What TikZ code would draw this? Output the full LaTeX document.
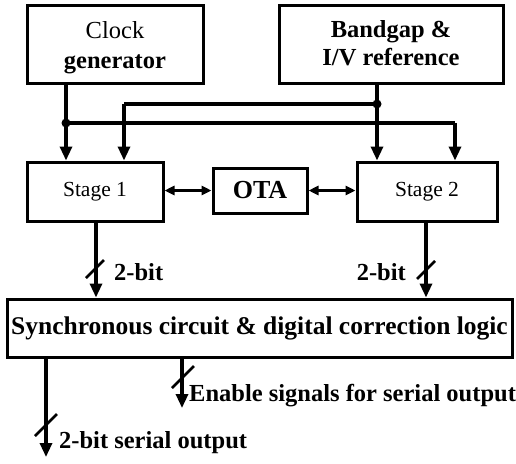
\documentclass[tikz,border=0pt]{standalone}
\usepackage{fontspec}
\setmainfont{Liberation Serif}
\usetikzlibrary{arrows.meta}
\tikzset{
  blk/.style={draw, line width=3pt, inner sep=0pt, align=center},
  topblk/.style={blk, minimum height=78pt, font=\fontsize{24.5}{30}\selectfont\bfseries},
  wire/.style={line width=3.2pt},
  sig/.style={wire, -{Triangle[length=14pt,width=12pt]}},
  dsig/.style={line width=2.6pt, {Triangle[length=10pt,width=9pt]}-{Triangle[length=10pt,width=9pt]}},
  jdot/.style={circle, fill, inner sep=0pt, minimum size=9pt},
  bus/.style={line width=2.6pt},
  lbl/.style={font=\fontsize{24.5}{26}\selectfont\bfseries, inner sep=0pt}
}
% two centred lines; the second baseline sits #1 below the box centre, #2 is extra line gap
\newcommand\twolines[4]{\raisebox{-#1}[0pt][0pt]{\begin{tabular}[b]{@{}c@{}}#3\\[#2]#4\end{tabular}}}
\begin{document}
\begin{tikzpicture}[x=1pt,y=-1pt]
\useasboundingbox (0,0) rectangle (516,463);

% blocks
\node[topblk, minimum width=176pt] (clock) at (115,44) {\twolines{24pt}{0pt}{\mdseries Clock}{generator}};
\node[topblk, minimum width=224pt] (bg) at (391,44) {\twolines{21pt}{-2pt}{Bandgap \&}{I/V reference}};
\node[blk, minimum width=136pt, minimum height=59pt, font=\fontsize{21.5}{22}\selectfont] (s1) at (95,191.5) {Stage 1};
\node[blk, minimum width=140pt, minimum height=59pt, font=\fontsize{21.5}{22}\selectfont] (s2) at (427,191.5) {Stage 2};
\node[blk, minimum width=94pt, minimum height=45pt, font=\fontsize{26}{26}\selectfont\bfseries] (ota) at (260,190.5) {OTA};
\node[blk, minimum width=505pt, minimum height=58pt, font=\fontsize{25.5}{26}\selectfont\bfseries] (sync) at (259.5,328) {Synchronous circuit \& digital correction logic};

% junctions and routing points
\coordinate (cj) at (66,123);
\coordinate (bj) at (377,104);
\coordinate (bl) at (124,104);
\coordinate (cr) at (455,123);
\node[jdot] (cjd) at (cj) {};
\node[jdot] (bjd) at (bj) {};

% clock distribution
\draw[sig] (clock.south -| cj) -- (s1.north -| cj);
\draw[wire] (cj) -- (cr);
\draw[sig] (cr) -- (s2.north -| cr);

% reference distribution
\draw[sig] (bg.south -| bj) -- (s2.north -| bj);
\draw[wire] (bj) -- (bl);
\draw[sig] (bl) -- (s1.north -| bl);

% stages to OTA
\draw[dsig] (s1.east |- ota) -- (ota.west);
\draw[dsig] (ota.east) -- (s2.west |- ota);

% 2-bit stage outputs
\coordinate (o1) at (96,0);
\coordinate (o2) at (426,0);
\draw[sig] (s1.south -| o1) -- (sync.north -| o1);
\draw[sig] (s2.south -| o2) -- (sync.north -| o2);
\coordinate (k1) at (95,269);
\coordinate (k2) at (426,270);
\draw[bus] ([shift={(-9,9)}]k1) -- ([shift={(9,-9)}]k1);
\draw[bus] ([shift={(-9,9)}]k2) -- ([shift={(9,-9)}]k2);
\node[lbl, anchor=west] (l1) at (114,272) {2-bit};
\node[lbl, anchor=east] (l2) at (406,272) {2-bit};

% outputs of the correction logic
\coordinate (en) at (182,408);
\coordinate (so) at (46,457);
\draw[sig] (sync.south -| en) -- (en);
\draw[sig] (sync.south -| so) -- (so);
\coordinate (k3) at (183,377);
\coordinate (k4) at (46,425);
\draw[bus] ([shift={(-11,11)}]k3) -- ([shift={(11,-11)}]k3);
\draw[bus] ([shift={(-11,11)}]k4) -- ([shift={(11,-11)}]k4);
\node[lbl, anchor=west] (le) at (189,396) {Enable signals for serial output};
\node[lbl, anchor=west] (ls) at (59,443) {2-bit serial output};
\end{tikzpicture}
\end{document}
